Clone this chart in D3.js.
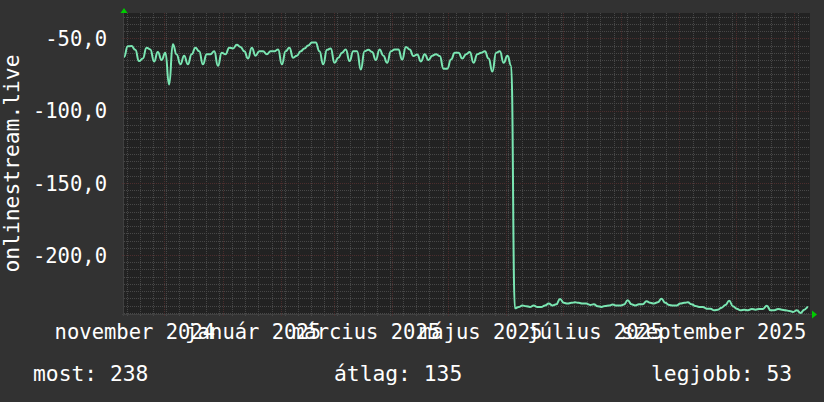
<!DOCTYPE html>
<html><head><meta charset="utf-8">
<script src="https://cdn.jsdelivr.net/npm/d3@7"></script>
<style>body{margin:0;background:#323232;overflow:hidden}</style>
</head><body><svg id="c" width="824" height="402"></svg>
<script>
// ---- data ----
const startDate = "2024-11-09T12:00:00Z";
const endDate = "2025-11-09T12:00:00Z";
const stepDays = 2;
const values = [
-63,-55.5,-55.4,-58,-65.8,-64,-56.5,-57.7,-66,-59.5,
-65,-60,-82,-54.2,-61.2,-68,-62,-68,-61,-56.5,
-59,-68,-61,-61,-59,-69,-60,-61,-56.5,-57,
-54.5,-56,-59,-64,-56.5,-62,-59,-59,-61,-59,
-59,-57.7,-68,-59,-56.5,-63.5,-62,-59,-57,-55,
-53,-53,-59,-68,-58,-57,-67,-63.5,-60,-57.7,
-65.8,-59,-59,-71.6,-59,-58,-59.5,-65,-57.7,-62,
-67,-59,-57.7,-57.7,-64.7,-56,-57.7,-62.3,-61.2,-66,
-61,-65,-62,-61,-62.3,-71,-71,-64.7,-60,-60,
-64,-61,-59.5,-67,-61,-60,-59,-64,-73,-60,
-59,-67,-62,-69,
-236.9,-235.9,-234.9,-235.4,-235.9,-234.9,
-235.9,-235.9,-234.9,-233.6,-234.9,-234.1,-230.4,-233.1,-233.6,-233.1,
-232.7,-233.1,-233.6,-233.6,-234.5,-234.1,-235.4,-235.9,-235.2,-234.9,
-234.3,-234.9,-234.9,-234.3,-231.3,-234.1,-234.9,-234.1,-234.1,-231.9,
-233.1,-233.6,-232.7,-230.3,-233.1,-234.5,-234.9,-234.9,-233.6,-233.1,
-232.7,-234.1,-235.2,-235.9,-235.9,-237.1,-237.1,-238.2,-237.8,-236.4,
-234.5,-231.7,-235.4,-237.1,-238.2,-237.8,-238.2,-237.3,-237.8,-237.3,
-237.3,-235.1,-238.2,-238.2,-237.3,-237.8,-238.2,-238.7,-239.4,-238.2,
-240.1,-237.8,-235.9
];
const yTicks = [-50, -100, -150, -200];
const yTickLabels = ["-50,0", "-100,0", "-150,0", "-200,0"];
const xLabels = ["november 2024", "január 2025", "március 2025", "május 2025", "július 2025", "szeptember 2025"];
const xLabelDates = ["2024-11-15", "2025-01-17", "2025-03-18", "2025-05-18", "2025-07-18", "2025-09-19"];
const yTitle = "onlinestream.live";
const legendItems = ["most: 238", "átlag: 135", "legjobb: 53"];

// ---- drawing ----
const W = 824, H = 402;
const L = 124, R = 810, T = 13, B = 314;
const svg = d3.select("#c");
svg.append("rect").attr("width", W).attr("height", H).attr("fill", "#323232");

const t0 = new Date(startDate);
const data = values.map((v, i) => ({ t: d3.utcDay.offset(t0, i * stepDays), v }));

const x = d3.scaleUtc().domain([new Date(startDate), new Date(endDate)]).range([L, R]);
const y = d3.scaleLinear().domain([-240.8, -32.5]).range([B, T]);

svg.append("rect").attr("x", L).attr("y", T).attr("width", R - L).attr("height", B - T).attr("fill", "#222222");

const grid = svg.append("g").attr("shape-rendering", "crispEdges");
const minorCol = "#474747", majorCol = "#4c2d2d";
// minor horizontal
const minorY = d3.range(-240, -32, 5).filter(v => v % 50 !== 0);
grid.selectAll(".hm").data(minorY).join("line")
  .attr("x1", L).attr("x2", R).attr("y1", d => Math.round(y(d)) + 0.5).attr("y2", d => Math.round(y(d)) + 0.5)
  .attr("stroke", minorCol).attr("stroke-dasharray", "1,1");
// minor vertical (weeks)
const weeks = d3.utcMonday.range(x.domain()[0], x.domain()[1]);
grid.selectAll(".vm").data(weeks).join("line")
  .attr("x1", d => Math.round(x(d)) + 0.5).attr("x2", d => Math.round(x(d)) + 0.5).attr("y1", T).attr("y2", B + 2)
  .attr("stroke", minorCol).attr("stroke-dasharray", "1,1");
// major horizontal
grid.selectAll(".hM").data(yTicks).join("line")
  .attr("x1", L - 2).attr("x2", R).attr("y1", d => Math.round(y(d)) + 0.5).attr("y2", d => Math.round(y(d)) + 0.5)
  .attr("stroke", majorCol).attr("stroke-dasharray", "1,1");
// major vertical (months)
const months = d3.utcMonth.range(x.domain()[0], x.domain()[1]);
grid.selectAll(".vM").data(months).join("line")
  .attr("x1", d => Math.round(x(d)) + 0.5).attr("x2", d => Math.round(x(d)) + 0.5).attr("y1", T).attr("y2", B + 3)
  .attr("stroke", majorCol).attr("stroke-dasharray", "1,1");

// axes lines
grid.append("line").attr("x1", L - 0.5).attr("x2", L - 0.5).attr("y1", T - 2).attr("y2", B + 2).attr("stroke", "#404040");
grid.append("line").attr("x1", L - 2).attr("x2", R + 2).attr("y1", B + 0.5).attr("y2", B + 0.5).attr("stroke", "#404040");

// data line
const line = d3.line().x(d => x(d.t)).y(d => y(d.v)).curve(d3.curveBumpX);
svg.append("path").datum(data).attr("d", line).attr("fill", "none")
  .attr("stroke", "#7ae6b2").attr("stroke-width", 2).attr("stroke-linejoin", "miter");

// arrows
svg.append("path").attr("d", `M${L - 3.5},${T} L${L + 3.5},${T} L${L},${T - 5} Z`).attr("fill", "#00cc00");
svg.append("path").attr("d", `M${R + 2},${B - 3.5} L${R + 2},${B + 4.5} L${R + 7},${B + 0.5} Z`).attr("fill", "#00cc00");

const font = "'DejaVu Sans Mono', monospace";
// y axis labels via d3 axis
const yAxis = d3.axisLeft(y).tickValues(yTicks).tickFormat((d, i) => yTickLabels[i]).tickSize(0).tickPadding(0);
const gy = svg.append("g").attr("transform", `translate(107,0)`).call(yAxis);
gy.select(".domain").remove();
gy.selectAll("text").attr("font-family", font).attr("font-size", "20.5px").attr("fill", "#ffffff")
  .attr("dy", "0.36em").attr("x", 0).attr("text-anchor", "end");

// x axis labels via d3 axis
const xAxis = d3.axisBottom(x).tickValues(xLabelDates.map(s => new Date(s + "T00:00:00Z")))
  .tickFormat((d, i) => xLabels[i]).tickSize(0).tickPadding(0);
const gx = svg.append("g").attr("transform", `translate(0,339)`).call(xAxis);
gx.select(".domain").remove();
gx.selectAll("text").attr("font-family", font).attr("font-size", "20.5px").attr("fill", "#ffffff")
  .attr("dy", "0").attr("y", 0).attr("text-anchor", "middle");

// y title
svg.append("text").attr("transform", `translate(19,${(T + B) / 2}) rotate(-90)`)
  .attr("text-anchor", "middle").attr("font-family", font).attr("font-size", "21.3px").attr("fill", "#ffffff")
  .text(yTitle);

// legend
const legX = [33, 334, 651];
svg.selectAll(".leg").data(legendItems).join("text")
  .attr("x", (d, i) => legX[i]).attr("y", 381)
  .attr("font-family", font).attr("font-size", "21.3px").attr("fill", "#ffffff")
  .text(d => d);
</script>
</body></html>
